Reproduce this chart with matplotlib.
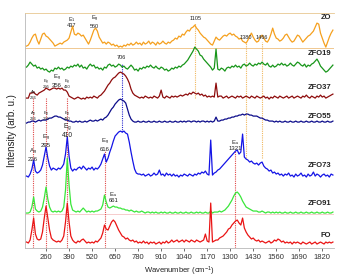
import matplotlib
matplotlib.use('Agg')
import matplotlib.pyplot as plt
import numpy as np

plt.rcParams['font.family'] = ['Liberation Sans', 'DejaVu Sans']
plt.rcParams['mathtext.fontset'] = 'custom'
plt.rcParams['mathtext.rm'] = 'Liberation Sans'
plt.rcParams['mathtext.default'] = 'regular'

# spectra, 10 cm-1 steps starting at 150 (units of the drawn axis)
zo = [2, 3, 6, 10, 13, 14, 8, 4, 9, 14,
      15, 12, 11, 9, 7, 5, 2, 3, 4, 5,
      4, 6, 7, 8, 10, 16, 22, 14, 13, 15,
      14, 12, 13, 10, 7, 4, 8, 13, 18, 20,
      17, 11, 8, 5, 6, 4, 6, 5, 3, 4,
      2, 3, 1, 2, 1, 3, 2, 4, 3, 5,
      3, 4, 6, 4, 5, 3, 6, 4, 5, 7,
      4, 6, 5, 3, 6, 4, 5, 7, 5, 4,
      6, 5, 7, 8, 10, 9, 12, 11, 14, 13,
      16, 18, 17, 20, 21, 23, 20, 18, 15, 13,
      11, 10, 8, 6, 4, 3, 7, 11, 9, 8,
      10, 12, 13, 12, 14, 15, 13, 14, 12, 11,
      9, 10, 7, 6, 5, 8, 12, 15, 11, 8,
      6, 7, 11, 13, 10, 7, 6, 9, 14, 20,
      14, 10, 9, 7, 8, 10, 13, 14, 11, 8,
      6, 7, 10, 13, 12, 9, 6, 8, 10, 12,
      13, 15, 17, 21, 25, 24, 15, 10, 5, 1,
      6, 11, 15, 18]
zfo19 = [6, 8, 11, 9, 7, 8, 5, 6, 4, 5,
         3, 4, 2, 1, 3, 2, 5, 4, 6, 4,
         5, 3, 4, 6, 5, 7, 6, 8, 7, 9,
         6, 8, 5, 6, 4, 7, 9, 7, 8, 5,
         6, 4, 5, 3, 6, 5, 8, 9, 7, 8,
         6, 7, 9, 8, 6, 7, 5, 4, 6, 8,
         6, 3, 4, 2, 5, 4, 6, 5, 7, 6,
         8, 6, 5, 7, 5, 4, 6, 5, 3, 4,
         2, 3, 5, 4, 6, 5, 7, 6, 8, 9,
         11, 13, 16, 19, 22, 26, 24, 22, 18, 17,
         14, 12, 10, 8, 6, 3, 5, 24, 4, 3,
         5, 4, 2, 5, 6, 5, 7, 6, 8, 6,
         7, 5, 8, 9, 7, 8, 10, 8, 7, 9,
         8, 10, 9, 11, 9, 8, 10, 7, 6, 8,
         6, 7, 9, 8, 10, 8, 9, 7, 8, 10,
         8, 7, 9, 11, 10, 8, 7, 9, 6, 8,
         7, 9, 10, 12, 14, 11, 7, 5, 3, 1,
         2, 4, 6, 8]
zfo37 = [1, 1, 6, 6, 7, 5, 4, 6, 7, 8,
         9, 11, 10, 9, 10, 11, 11, 10, 11, 10,
         11, 9, 9, 7, 3, 2, 1, 0, 1, 2,
         1, 0, 1, 0, 2, 1, 2, 1, 3, 2,
         1, 3, 4, 6, 8, 11, 14, 16, 19, 21,
         22, 24, 26, 27, 26, 25, 23, 20, 16, 10,
         6, 4, 3, 2, 1, 2, 1, 3, 2, 1,
         2, 1, 3, 2, 1, 3, 9, 2, 1, 3,
         2, 1, 3, 2, 3, 2, 3, 4, 3, 4,
         5, 4, 6, 5, 7, 6, 5, 6, 4, 5,
         3, 4, 2, 3, 2, 3, 2, 16, 2, 3,
         3, 1, 2, 3, 1, 2, 3, 2, 1, 3,
         2, 3, 1, 2, 3, 2, 1, 3, 2, 1,
         3, 2, 1, 2, 3, 1, 2, 0, 2, 1,
         3, 2, 1, 3, 2, 1, 2, 3, 1, 2,
         3, 1, 2, 3, 2, 1, 3, 2, 4, 2,
         1, 3, 2, 1, 3, 2, 4, 2, 3, 1,
         2, 3, 4, 5]
zfo55 = [0, 1, 1, 2, 2, 1, 2, 3, 2, 3,
         3, 3, 4, 5, 5, 6, 7, 7, 6, 6,
         5, 4, 3, 3, 2, 2, 1, 1, 2, 1,
         2, 1, 1, 2, 1, 2, 3, 2, 2, 3,
         2, 3, 4, 3, 5, 6, 8, 11, 14, 16,
         19, 21, 23, 24, 23, 22, 20, 14, 8, 4,
         2, 1, 1, 2, 1, 1, 2, 1, 1, 2,
         1, 1, 2, 1, 1, 2, 1, 1, 2, 1,
         1, 2, 1, 1, 2, 1, 1, 2, 1, 2,
         1, 2, 2, 1, 2, 2, 1, 2, 1, 2,
         2, 1, 2, 1, 2, 1, 2, 6, 2, 2,
         3, 3, 4, 4, 5, 5, 6, 6, 7, 7,
         8, 8, 9, 8, 9, 9, 8, 8, 7, 7,
         7, 6, 5, 5, 4, 3, 3, 2, 2, 2,
         1, 2, 1, 2, 1, 1, 2, 1, 1, 2,
         1, 1, 2, 1, 1, 2, 1, 1, 2, 1,
         1, 2, 1, 1, 2, 1, 1, 2, 1, 1,
         2, 1, 1, 2]
zfo73 = [2, 1, 4, 9, 18, 7, 5, 6, 8, 13,
         22, 31, 20, 12, 8, 10, 9, 8, 10, 9,
         11, 14, 24, 41, 22, 10, 7, 9, 8, 10,
         11, 9, 12, 10, 8, 10, 9, 11, 8, 10,
         9, 11, 14, 19, 24, 16, 20, 26, 31, 37,
         42, 44, 46, 47, 46, 47, 45, 44, 36, 26,
         17, 9, 5, 4, 4, 3, 4, 2, 3, 4,
         2, 3, 5, 3, 4, 8, 3, 4, 2, 5,
         3, 4, 2, 4, 2, 3, 1, 3, 2, 4,
         3, 2, 4, 3, 2, 4, 3, 5, 4, 6,
         5, 7, 4, 3, 38, 3, 5, 6, 8, 9,
         11, 13, 15, 17, 19, 21, 23, 25, 27, 28,
         24, 26, 44, 21, 19, 18, 16, 17, 15, 14,
         15, 13, 15, 16, 12, 10, 9, 7, 8, 5,
         6, 4, 5, 3, 4, 2, 4, 3, 5, 2,
         3, 1, 4, 2, 3, 5, 2, 3, 1, 4,
         2, 3, 6, 2, 4, 3, 1, 3, 4, 2,
         3, 1, 4, 3]
zfo91 = [1, 1, 2, 7, 17, 5, 3, 2, 3, 7,
         16, 27, 15, 7, 3, 2, 3, 2, 3, 2,
         3, 7, 24, 56, 29, 10, 4, 3, 2, 3,
         2, 4, 6, 4, 2, 3, 2, 3, 2, 3,
         3, 4, 5, 9, 19, 12, 7, 6, 7, 8,
         7, 7, 6, 6, 5, 5, 4, 4, 3, 4,
         3, 2, 3, 2, 2, 3, 2, 1, 2, 2,
         1, 2, 1, 2, 1, 1, 2, 1, 2, 1,
         1, 2, 1, 1, 2, 1, 1, 2, 1, 1,
         2, 1, 1, 2, 1, 1, 2, 1, 2, 1,
         1, 2, 1, 1, 3, 1, 2, 2, 2, 3,
         2, 3, 4, 6, 8, 11, 14, 18, 21, 22,
         20, 17, 13, 10, 7, 6, 5, 4, 3, 3,
         3, 2, 2, 3, 2, 1, 2, 2, 1, 2,
         1, 2, 1, 2, 1, 1, 2, 1, 1, 2,
         1, 1, 2, 1, 1, 2, 1, 1, 2, 1,
         1, 2, 1, 1, 2, 1, 1, 2, 1, 1,
         2, 1, 1, 2]
fo = [3, 2, 5, 15, 27, 11, 6, 5, 6, 13,
      27, 39, 27, 15, 7, 5, 4, 3, 4, 3,
      5, 9, 23, 42, 23, 9, 5, 3, 2, 4,
      3, 5, 6, 4, 2, 3, 2, 3, 2, 4,
      3, 5, 7, 12, 20, 16, 15, 19, 23, 25,
      23, 19, 15, 12, 9, 8, 6, 7, 5, 4,
      5, 3, 4, 2, 3, 2, 4, 2, 3, 1,
      3, 2, 3, 1, 2, 3, 1, 3, 2, 4,
      2, 3, 5, 3, 4, 5, 3, 4, 5, 3,
      5, 4, 3, 5, 4, 3, 5, 4, 3, 4,
      5, 11, 4, 3, 42, 3, 4, 5, 5, 7,
      8, 9, 11, 13, 16, 17, 20, 22, 24, 25,
      22, 20, 27, 17, 13, 10, 8, 6, 7, 5,
      4, 5, 3, 4, 3, 2, 3, 4, 2, 3,
      5, 4, 6, 5, 3, 4, 2, 3, 2, 3,
      1, 3, 2, 3, 2, 1, 3, 2, 1, 2,
      3, 1, 2, 3, 1, 2, 3, 2, 1, 3,
      2, 3, 2, 3]

names = ['ZO', 'ZFO19', 'ZFO37', 'ZFO55', 'ZFO73', 'ZFO91', 'FO']
spectra = [zo, zfo19, zfo37, zfo55, zfo73, zfo91, fo]
ticks = np.arange(260, 1821, 130)

colors = ['#f5a01e', '#18961a', '#8e0c0c', '#0c0c8a', '#1414e6', '#3ae63a', '#ea1414']
offsets = [202, 177, 151, 127, 72, 36, 5]
label_y = [233, 197, 163, 134, 85, 47, 15]


def wn(t):
    # labelled peak position -> position on the drawn axis (the original ticks are a bit off)
    return 186.5 + 1.0436 * (t - 226)


fig = plt.figure(figsize=(3.42, 2.79), dpi=100)
ax = fig.add_axes([0.073, 0.111, 0.904, 0.842])

ax.axhline(offsets[0], color='#f0c890', lw=0.7, zorder=1)
ax.axhline(offsets[5], color='#f6cccc', lw=0.7, zorder=1)

for name, ys, col, off, ly in zip(names, spectra, colors, offsets, label_y):
    x = 150 + 10 * np.arange(len(ys))
    ax.plot(x, np.array(ys) + off, color=col, lw=0.9, zorder=3)
    ax.text(1870, ly, name, ha='right', va='center', fontsize=5.5,
            fontweight='bold', color='#222222')

# dotted guides
dot = dict(linestyles=(0, (1, 1)), lw=0.8, zorder=2)
ax.vlines([wn(226), wn(295), wn(410)], 2, 152, color='#e04848', **dot)
ax.vlines([wn(616), wn(1321)], 2, 100, color='#e04848', **dot)
ax.vlines(wn(706), 118, 186, color='#2a2ad0', **dot)
ax.vlines(wn(1105), 152, 227, color='#f0b860', **dot)
ax.vlines([wn(1380), wn(1466)], 92, 208, color='#f0b860', **dot)

# peak labels
def peak(t, y, top=None, fs=4.0):
    s = str(t) if top is None else top + '\n' + str(t)
    ax.text(wn(t), y, s, ha='center', va='center', fontsize=fs,
            linespacing=0.95, color='#222222', zorder=4)

peak(437, 228.5, 'E$_1$')
peak(560, 228.5, 'E$_g$')
peak(1105, 232)
peak(1380, 213)
peak(1466, 213)
peak(706, 193)
peak(226, 156, 'A$_g$', fs=3)
peak(295, 167, 'E$_g$', fs=3)
peak(356, 170, 'E$_g$', fs=4.3)
peak(410, 167, 'E$_g$', fs=3)
peak(226, 135, 'A$_g$', fs=3)
peak(295, 135, 'E$_g$', fs=3)
peak(410, 135, 'E$_g$', fs=3)
peak(410, 120, 'E$_g$', fs=4.8)
peak(295, 109.5, 'E$_g$', fs=4.3)
peak(226, 95.5, 'A$_g$', fs=4.3)
peak(616, 105.5, 'E$_g$', fs=4.3)
peak(1321, 105.5, 'E$_u$', fs=4.3)
peak(661, 53.5, 'E$_u$', fs=4.3)

ax.set_xlim(141, 1887)
ax.set_ylim(2, 237)
ax.set_xticks(ticks)
ax.set_yticks([])
ax.tick_params(axis='x', labelsize=5.5, length=2, width=0.5, pad=2, colors='#333333')
ax.set_xlabel('Wavenumber (cm$^{-1}$)', fontsize=5.5, labelpad=3, color='#222222')
ax.set_ylabel('Intensity (arb. u.)', fontsize=7, labelpad=6, color='#222222')

for side in ['left', 'bottom']:
    ax.spines[side].set_color('#b8b8b8')
    ax.spines[side].set_linewidth(0.6)
ax.spines['top'].set_color('#e8c890')
ax.spines['top'].set_linewidth(0.6)
ax.spines['right'].set_visible(False)

plt.savefig('out.png', dpi=100)
